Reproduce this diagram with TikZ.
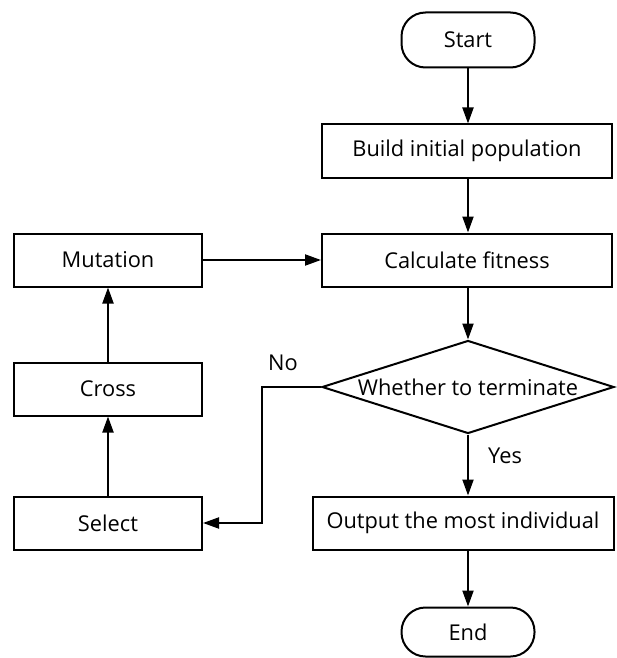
\documentclass[tikz,border=0pt]{standalone}
\usepackage{fontspec}
\setmainfont{Open Sans}
\usetikzlibrary{arrows.meta,shapes.geometric}
\begin{document}
\begin{tikzpicture}[x=1pt,y=-1pt,line width=2pt,
  font=\fontsize{21.8}{26}\selectfont,
  box/.style={draw,rectangle,inner sep=0pt,minimum height=53pt},
  term/.style={draw,rectangle,rounded corners=24pt,inner sep=0pt,minimum width=133pt},
  dec/.style={draw,diamond,aspect=3.14,inner sep=0pt,minimum width=292pt,minimum height=93pt},
  arr/.style={-{Triangle[length=16pt,width=11pt]}},
  lbl/.style={inner sep=0pt}]
\useasboundingbox (0,0) rectangle (617,658);
\node[term,minimum height=55pt] (start) at (468,40) {Start};
\node[box,minimum width=290pt] (build) at (467,151) {Build initial population};
\node[box,minimum width=290pt] (calc) at (467,260) {Calculate fitness};
\node[box,minimum width=188pt] (mut) at (108,260) {Mutation};
\node[dec] (dia) at (468,387) {Whether to terminate};
\node[box,minimum width=188pt] (cross) at (108,389) {Cross};
\node[box,minimum width=188pt] (sel) at (108,523) {Select};
\node[box,minimum width=301pt] (out) at (463,523) {Output the most individual};
\node[term,minimum height=49pt] (end) at (468,632) {End};
\node[lbl] (no) at (283,363) {No};
\node[lbl] (yes) at (505,456) {Yes};
\draw[arr] (start) -- (start |- build.north);
\draw[arr] (build.south -| start) -- (start |- calc.north);
\draw[arr] (calc.south -| dia) -- (dia.north);
\draw[arr] (dia.south) -- (dia.south |- out.north);
\draw[arr] (out.south -| end) -- (end.north);
\draw[arr] (dia.west) -- ++(-59,0) |- (sel.east);
\draw[arr] (sel.north) -- (cross.south);
\draw[arr] (cross.north) -- (mut.south);
\draw[arr] (mut.east) -- (calc.west);
\end{tikzpicture}
\end{document}
